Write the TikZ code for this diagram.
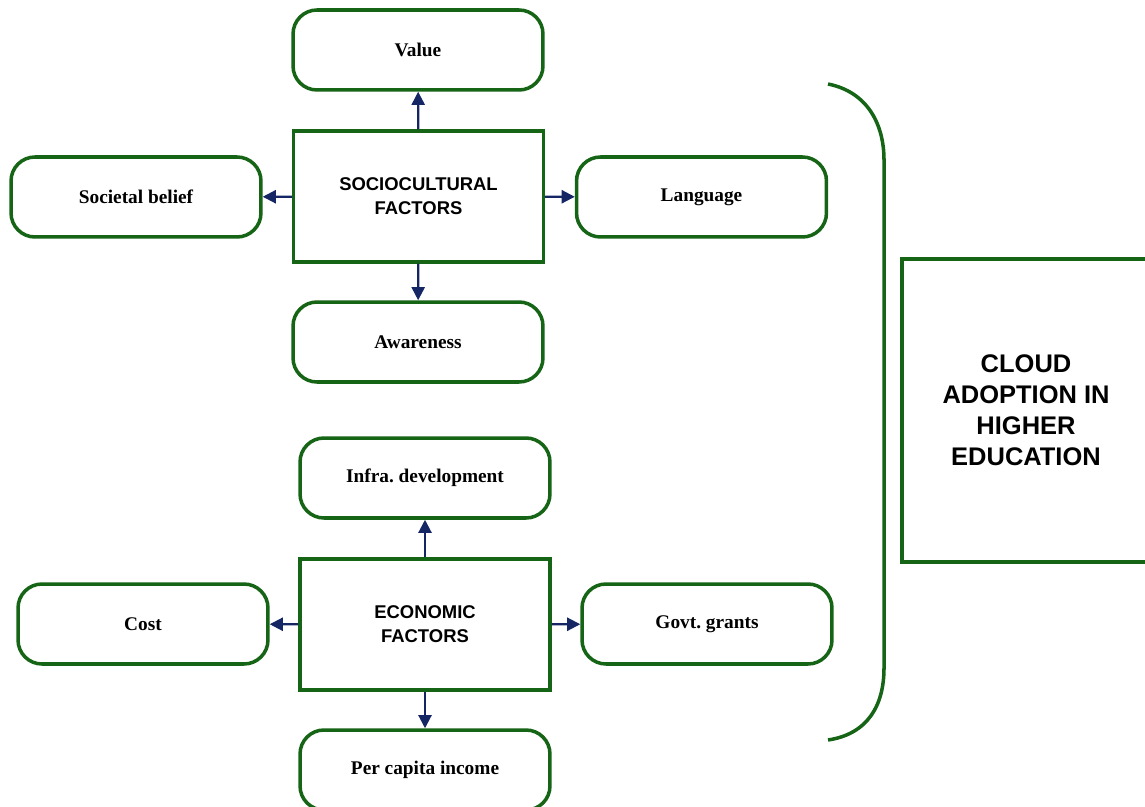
\documentclass[tikz,border=0pt]{standalone}
\usepackage{fontspec}
\setmainfont{Liberation Serif}
\setsansfont{Liberation Sans}
\usetikzlibrary{arrows.meta}
\frenchspacing
\definecolor{boxgreen}{RGB}{22,100,22}
\definecolor{arrowblue}{RGB}{20,38,100}
\tikzset{
	factor/.style={draw=boxgreen, line width=2pt, rounded corners=0.48cm, minimum width=5cm, minimum height=1.6cm, font=\bfseries\fontsize{11}{13}\selectfont},
	mainbox/.style={draw=boxgreen, line width=2pt, minimum width=5cm, minimum height=2.62cm, align=center, font=\sffamily\bfseries\fontsize{10.5}{13.6}\selectfont},
	link/.style={draw=arrowblue, line width=1.2pt, -{Triangle[length=7.5pt,width=7.5pt]}}
}
\begin{document}
\begin{tikzpicture}[x=0.02cm,y=-0.02cm]
	\useasboundingbox (0,0) rectangle (1145,807);

	\node[mainbox] (socio) at (418.5,196.5) {SOCIOCULTURAL\\FACTORS};%upper group
	\node[factor] (value) at (418,50) {Value};
	\node[factor] (belief) at (136,197) {Societal belief};
	\node[factor] (language) at (701.5,197) {Language};
	\node[factor] (awareness) at (418,342) {Awareness};

	\node[mainbox] (econ) at (425,624.5) {ECONOMIC\\FACTORS};%lower group
	\node[factor] (infra) at (425,478) {Infra. development};
	\node[factor] (cost) at (143,624) {Cost};
	\node[factor] (grants) at (707,624) {Govt. grants};
	\node[factor] (income) at (425,770) {Per capita income};

	\foreach \t in {value,belief,language,awareness} \draw[link] (socio) -- (\t);
	\foreach \t in {infra,cost,grants,income} \draw[link] (econ) -- (\t);

	\draw[boxgreen, line width=2pt] (828,84) .. controls (868,92) and (884,125) .. (884,160) -- (884,668) .. controls (884,705) and (868,734) .. (828,740);%bracket

	\node[draw=boxgreen, line width=2pt, minimum width=4.96cm, minimum height=6.06cm, align=center,
		font=\sffamily\bfseries\fontsize{14.5}{17.6}\selectfont] (cloud) at (1026,410.5) {CLOUD\\ADOPTION IN\\HIGHER\\EDUCATION};
\end{tikzpicture}
\end{document}
